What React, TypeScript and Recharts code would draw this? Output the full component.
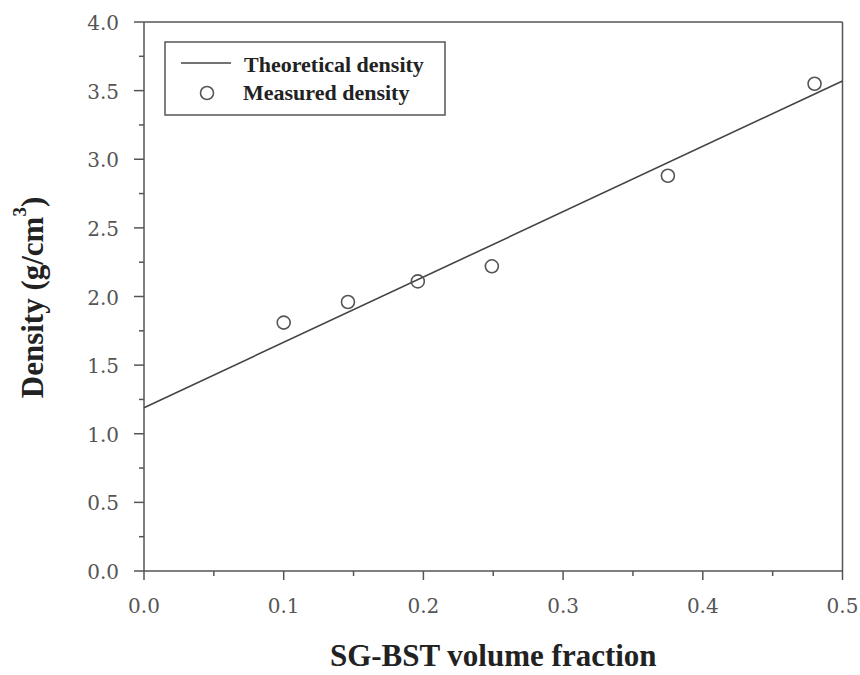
import { ScatterChart, Scatter, XAxis, YAxis, Legend, ReferenceLine, Label } from 'recharts';

// volume fraction of SG-BST filler
const xTicks = [0, 0.05, 0.1, 0.15, 0.2, 0.25, 0.3, 0.35, 0.4, 0.45, 0.5];
const yTicks = [0, 0.25, 0.5, 0.75, 1, 1.25, 1.5, 1.75, 2, 2.25, 2.5, 2.75, 3, 3.25, 3.5, 3.75, 4];

const theoryFraction = [0, 0.5];
const theoryDensity = [1.19, 3.57];

const measuredFraction = [0.1, 0.146, 0.196, 0.249, 0.375, 0.48];
const measuredDensity = [1.81, 1.96, 2.11, 2.22, 2.88, 3.55];

const theoryData = theoryFraction.map((x, i) => ({ x, y: theoryDensity[i] }));
const measuredData = measuredFraction.map((x, i) => ({ x, y: measuredDensity[i] }));

const AXIS = '#555';
const TICK_FONT = '"DejaVu Serif", serif';
const TITLE_FONT = '"Liberation Serif", "Times New Roman", serif';

const isMajor = (v: number, step: number) => Math.abs(v / step - Math.round(v / step)) < 1e-6;

function XTick({ x, y, payload }: any) {
  const major = isMajor(payload.value, 0.1);
  return (
    <g>
      <line x1={x} y1={y} x2={x} y2={y + (major ? 9 : 5)} stroke={AXIS} strokeWidth={1.5} />
      {major && (
        <text x={x} y={y + 42} textAnchor="middle" fontFamily={TICK_FONT} fontSize={20} fill="#555">
          {payload.value.toFixed(1)}
        </text>
      )}
    </g>
  );
}

function YTick({ x, y, payload }: any) {
  const major = isMajor(payload.value, 0.5);
  return (
    <g>
      <line x1={x - (major ? 10 : 5)} y1={y} x2={x} y2={y} stroke={AXIS} strokeWidth={1.5} />
      {major && (
        <text x={x - 25} y={y + 8} textAnchor="end" fontFamily={TICK_FONT} fontSize={20} fill="#555">
          {payload.value.toFixed(1)}
        </text>
      )}
    </g>
  );
}

function YTitle({ viewBox }: any) {
  const cx = viewBox.x + 32;
  const cy = viewBox.y + viewBox.height / 2 + 1;
  return (
    <text
      x={cx}
      y={cy}
      transform={`rotate(-90, ${cx}, ${cy})`}
      textAnchor="middle"
      dominantBaseline="central"
      fontFamily={TITLE_FONT}
      fontWeight="bold"
      fontSize={31}
      fill="#222"
    >
      Density (g/cm<tspan dy={-13} fontSize={19}>3</tspan>
      <tspan dy={13}>)</tspan>
    </text>
  );
}

function XTitle({ viewBox }: any) {
  return (
    <text
      x={viewBox.x + viewBox.width / 2}
      y={viewBox.y + 95}
      textAnchor="middle"
      fontFamily={TITLE_FONT}
      fontWeight="bold"
      fontSize={31}
      fill="#222"
    >
      SG-BST volume fraction
    </text>
  );
}

function LegendBox() {
  return (
    <svg width={282} height={75} style={{ display: 'block' }}>
      <rect x={1} y={1} width={280} height={73} fill="#fff" stroke={AXIS} strokeWidth={1.5} />
      <line x1={17} y1={22} x2={67} y2={22} stroke="#444" strokeWidth={1.6} />
      <circle cx={43} cy={52} r={6.5} fill="none" stroke={AXIS} strokeWidth={1.6} />
      <text x={80} y={31} fontFamily={TITLE_FONT} fontWeight="bold" fontSize={22} fill="#222">
        Theoretical density
      </text>
      <text x={79} y={59} fontFamily={TITLE_FONT} fontWeight="bold" fontSize={22} fill="#222">
        Measured density
      </text>
    </svg>
  );
}

const Circle = ({ cx, cy }: any) => (
  <circle cx={cx} cy={cy} r={6.5} fill="none" stroke={AXIS} strokeWidth={1.6} />
);

export default function App() {
  return (
    <div style={{ width: 860, height: 675, background: '#fff' }}>
      <style>{'body { margin: 0; }'}</style>
      <ScatterChart
        width={860}
        height={675}
        margin={{ top: 22, right: 17.5, bottom: 0, left: 0 }}
      >
        <XAxis
          type="number"
          dataKey="x"
          domain={[0, 0.5]}
          ticks={xTicks}
          interval={0}
          height={104}
          tickSize={0}
          tickMargin={0}
          tickLine={false}
          tick={<XTick />}
          axisLine={{ stroke: AXIS, strokeWidth: 1.5 }}
        >
          <Label content={<XTitle />} />
        </XAxis>
        <YAxis
          type="number"
          dataKey="y"
          domain={[0, 4]}
          ticks={yTicks}
          interval={0}
          width={144}
          tickSize={0}
          tickMargin={0}
          tickLine={false}
          tick={<YTick />}
          axisLine={{ stroke: AXIS, strokeWidth: 1.5 }}
        >
          <Label content={<YTitle />} />
        </YAxis>
        <ReferenceLine y={4} stroke={AXIS} strokeWidth={1.5} />
        <ReferenceLine x={0.5} stroke={AXIS} strokeWidth={1.5} />
        <Legend
          layout="vertical"
          align="center"
          verticalAlign="middle"
          content={<LegendBox />}
          wrapperStyle={{ left: 164, top: 41, width: 282, height: 75, margin: 0 }}
        />
        <Scatter
          name="Theoretical density"
          data={theoryData}
          line={{ stroke: '#444', strokeWidth: 1.6 }}
          lineType="joint"
          shape={() => <g />}
          isAnimationActive={false}
        />
        <Scatter
          name="Measured density"
          data={measuredData}
          shape={<Circle />}
          isAnimationActive={false}
        />
      </ScatterChart>
    </div>
  );
}
